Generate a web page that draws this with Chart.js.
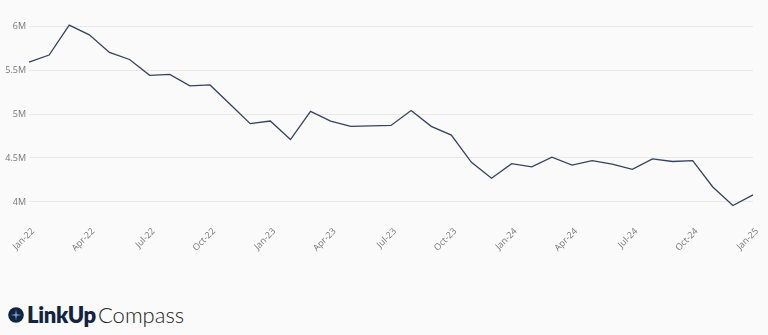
<!DOCTYPE html>
<html>
<head>
<meta charset="utf-8">
<script src="https://cdn.jsdelivr.net/npm/chart.js@4"></script>
<style>
  html, body { margin: 0; padding: 0; background: #fafafa; }
  body { width: 768px; height: 335px; position: relative; overflow: hidden; }
  #wrap { position: absolute; left: 0; top: 0; width: 768px; height: 264px; }
  .logo { position: absolute; left: 8px; top: 301px; display: flex; align-items: center; font-family: Lato, "Open Sans", sans-serif; font-size: 22px; color: #13243f; }
  .logo svg { margin-right: 3px; }
  .logo b { font-weight: 800; letter-spacing: -0.3px; }
  .logo span { font-weight: 300; color: #222; margin-left: 2px; }
</style>
</head>
<body>
<div id="wrap"><canvas id="myChart"></canvas></div>
<div class="logo">
  <svg width="16" height="16" viewBox="0 0 16 16">
    <circle cx="8" cy="8" r="7.8" fill="#13243f"/>
    <path d="M8 2.5 L9 7 L13.5 8 L9 9 L8 13.5 L7 9 L2.5 8 L7 7 Z" fill="#3b8fd9"/>
    <circle cx="8" cy="8" r="1.2" fill="#ff7a2f"/>
  </svg>
  <b>LinkUp</b><span>Compass</span>
</div>
<script>
// monthly totals, Jan-22 .. Jan-25
const months = [
  'Jan-22','Feb-22','Mar-22','Apr-22','May-22','Jun-22','Jul-22','Aug-22','Sep-22','Oct-22','Nov-22','Dec-22',
  'Jan-23','Feb-23','Mar-23','Apr-23','May-23','Jun-23','Jul-23','Aug-23','Sep-23','Oct-23','Nov-23','Dec-23',
  'Jan-24','Feb-24','Mar-24','Apr-24','May-24','Jun-24','Jul-24','Aug-24','Sep-24','Oct-24','Nov-24','Dec-24',
  'Jan-25'
];
const totals = [
  5590000, 5670000, 6010000, 5900000, 5700000, 5620000, 5440000, 5450000, 5320000, 5330000, 5110000, 4890000,
  4920000, 4710000, 5030000, 4920000, 4860000, 4865000, 4870000, 5040000, 4860000, 4760000, 4450000, 4270000,
  4435000, 4400000, 4510000, 4420000, 4470000, 4430000, 4370000, 4490000, 4460000, 4470000, 4170000, 3960000,
  4080000
];
const yTicks = [4000000, 4500000, 5000000, 5500000, 6000000];

function createChart() {
  const ctx = document.getElementById('myChart').getContext('2d');
  new Chart(ctx, {
    type: 'line',
    data: {
      labels: months,
      datasets: [{
        data: totals,
        borderColor: '#34425e',
        borderWidth: 1.3,
        pointRadius: 0,
        tension: 0,
        fill: false
      }]
    },
    options: {
      responsive: true,
      maintainAspectRatio: false,
      animation: false,
      layout: { padding: { top: 19, right: 15, left: 0, bottom: 0 } },
      plugins: { legend: { display: false }, tooltip: { enabled: false } },
      scales: {
        x: {
          offset: false,
          grid: { display: false, drawTicks: false },
          border: { display: false },
          afterFit: (scale) => {
            // keep the plot edges fixed, labels may hang over
            scale.height = 55;
            scale.paddingLeft = 0;
            scale.paddingRight = 0;
          },
          ticks: {
            autoSkip: false,
            minRotation: 45,
            maxRotation: 45,
            padding: 17,
            labelOffset: 4,
            color: '#777',
            font: { family: '"Open Sans", sans-serif', size: 9 },
            callback: function(value, index) {
              return index % 3 === 0 ? months[index] : '';
            }
          }
        },
        y: {
          min: 3920000,
          max: 6080000,
          grid: { color: '#e9e9e9', drawTicks: false },
          border: { display: false },
          afterFit: (scale) => { scale.width = 29; },
          afterBuildTicks: (scale) => { scale.ticks = yTicks.map(v => ({ value: v })); },
          ticks: {
            padding: 3,
            color: '#777',
            font: { family: '"Open Sans", sans-serif', size: 9 },
            callback: (v) => (v / 1000000) + 'M'
          }
        }
      }
    }
  });
}

createChart();
</script>
</body>
</html>
